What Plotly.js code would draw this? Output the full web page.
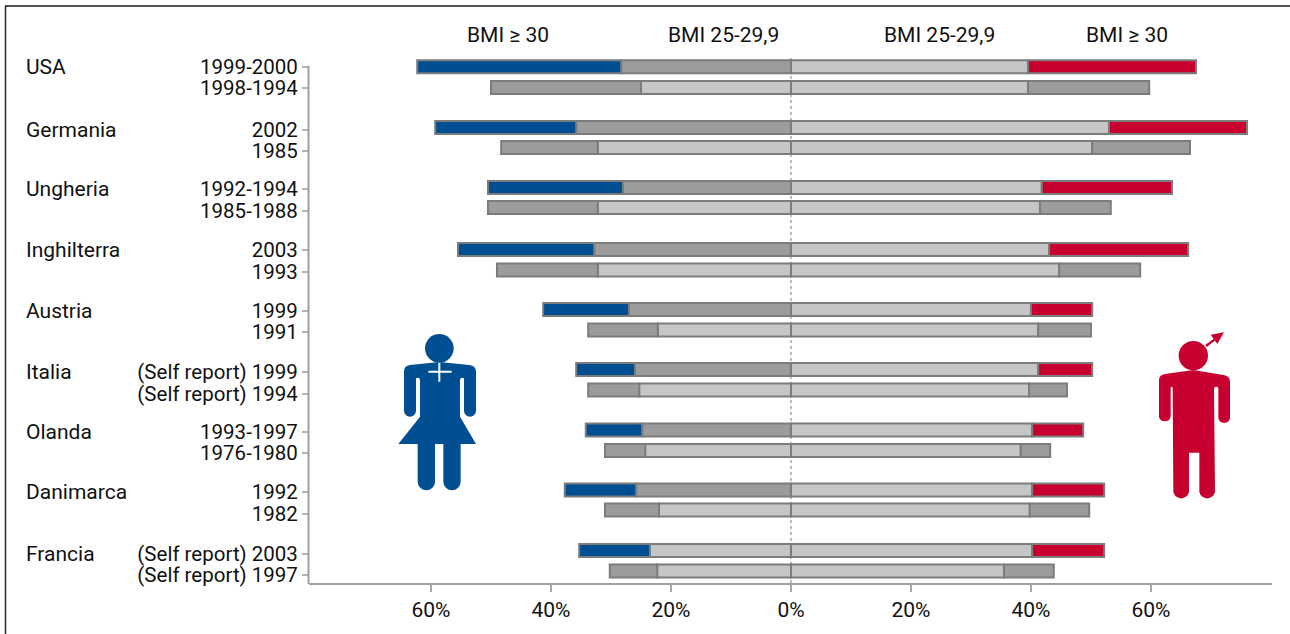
<!DOCTYPE html>
<html><head><meta charset="utf-8">
<script src="https://cdn.plot.ly/plotly-3.0.1.min.js"></script>
<style>html,body{margin:0;padding:0;background:#fff}#c{width:1290px;height:634px}</style>
</head><body><div id="c"></div>
<script>
const countries=["USA","Germania","Ungheria","Inghilterra","Austria","Italia","Olanda","Danimarca","Francia"];
const periods=["1999-2000","1998-1994","2002","1985","1992-1994","1985-1988","2003","1993","1999","1991",
"(Self report) 1999","(Self report) 1994","1993-1997","1976-1980","1992","1982","(Self report) 2003","(Self report) 1997"];
const labelRow=[67,88,130,151,189,211,250,272,311,332,372,394,432,453,492,514,554,575];
const barRow=[66.7,87.5,127.5,147.5,187.5,207.5,249.5,270,309.5,330,369.5,390,430,450.5,490,510,550.5,571];
const womenInner=[28.3,25,35.8,32.2,28,32.2,32.8,32.2,27,22.2,26,25.3,24.8,24.3,25.8,22,23.5,22.3];
const womenTotal=[62.3,50,59.3,48.3,50.5,50.5,55.5,49,41.3,33.8,35.8,33.8,34.2,31,37.7,31,35.3,30.2];
const menInner=[39.5,39.5,53,50.2,41.8,41.5,43,44.7,40,41.2,41.2,39.7,40.2,38.3,40.2,39.8,40.2,35.5];
const menTotal=[67.5,59.7,76,66.5,63.5,53.3,66.2,58.2,50.2,50,50.2,46,48.7,43.2,52.2,49.7,52.2,43.8];
const womenInnerColors=["d","l","d","l","d","l","d","l","d","l","d","l","d","l","d","l","l","l"];
const xTicks=[-60,-40,-20,0,20,40,60];
const xTickLabels=["60%","40%","20%","0%","20%","40%","60%"];
const headings=["BMI ≥ 30","BMI 25-29,9","BMI 25-29,9","BMI ≥ 30"];
const headingX=[-47.2,-11.2,24.8,56];

const W=1290,H=634,L=309,R=18,T=50,B=51;
const FONT='Roboto, sans-serif',FS=21,FSY=20.5;
const BLUE='#004f92',RED='#c8002f',DARK='#9c9c9c',LIGHT='#c6c6c6',EDGE='#7c7c7c';
const px=v=>(v-L)/(W-L-R), py=v=>1-(v-T)/(H-T-B);
const isFirst=i=>i%2===0;
const sub=(a,b)=>a.map((v,i)=>v-b[i]);
const mk=(x,base,colors)=>({type:'bar',orientation:'h',y:barRow,x:x,base:base,width:13,cliponaxis:false,
  hoverinfo:'skip',marker:{color:colors,line:{color:EDGE,width:2}},showlegend:false});
const traces=[
  mk(womenInner.map(v=>-v),0,womenInnerColors.map(c=>c==='d'?DARK:LIGHT)),
  mk(sub(womenTotal,womenInner).map(v=>-v),womenInner.map(v=>-v),barRow.map((_,i)=>isFirst(i)?BLUE:DARK)),
  mk(menInner,0,barRow.map(()=>LIGHT)),
  mk(sub(menTotal,menInner),menInner,barRow.map((_,i)=>isFirst(i)?RED:DARK))
];
const anns=[];
countries.forEach((c,i)=>anns.push({text:c,xref:'paper',yref:'y',x:px(24),y:labelRow[i*2],xanchor:'left',yanchor:'middle',
  showarrow:false,font:{family:FONT,size:FS,color:'#111'}}));
headings.forEach((h,i)=>anns.push({text:h,xref:'x',yref:'paper',x:headingX[i],y:py(35),xanchor:'center',yanchor:'middle',
  showarrow:false,font:{family:FONT,size:FS,color:'#111'}}));

const womanSvg=`<svg xmlns="http://www.w3.org/2000/svg" viewBox="0 0 360 540" width="360" height="540"><g fill="${BLUE}"><circle cx="178" cy="85" r="43"/><path d="M72 155 Q72 137 90 135 L178 126 L268 135 Q288 137 288 155 L288 272 A18 18 0 0 1 252 272 L252 177 Q252 173 247 173 Q240 173 240 180 L240 290 L288 372 L242 372 L242 485 A26 26 0 0 1 190 485 L190 372 L165 372 L165 485 A26 26 0 0 1 113 485 L113 372 L55 372 L120 290 L120 180 Q120 173 113 173 Q108 173 108 177 L108 272 A18 18 0 0 1 72 272 Z"/></g><path d="M145 155H215M178 128V185" stroke="#fff" stroke-width="6" fill="none"/></svg>`;
const manSvg=`<svg xmlns="http://www.w3.org/2000/svg" viewBox="0 0 330 570" width="330" height="570"><g fill="${RED}"><circle cx="160" cy="107" r="44"/><path d="M57 180 Q57 165 75 162 L160 150 L250 165 Q270 168 270 185 L270 295 A18 18 0 0 1 235 295 L235 205 Q235 200 229 200 Q222 200 222 207 L225 516 A24 24 0 0 1 178 516 L178 398 L147 398 L147 516 A24 24 0 0 1 100 516 L98 207 Q98 200 95 200 Q92 200 92 205 L92 290 A18 18 0 0 1 57 290 Z"/><path d="M212 44 L252 37 L232 72 Z"/></g><path d="M198 78 L235 50" stroke="${RED}" stroke-width="7" fill="none"/></svg>`;
const uri=s=>'data:image/svg+xml;base64,'+btoa(s);
const pw=W-L-R, ph=H-T-B;
const images=[
 {source:uri(womanSvg),xref:'paper',yref:'paper',x:px(380),y:py(320),sizex:120/pw,sizey:180/ph,xanchor:'left',yanchor:'top',sizing:'stretch',layer:'above'},
 {source:uri(manSvg),xref:'paper',yref:'paper',x:px(1140),y:py(320),sizex:110/pw,sizey:190/ph,xanchor:'left',yanchor:'top',sizing:'stretch',layer:'above'}
];
const shapes=[
 {type:'line',xref:'x',yref:'paper',x0:0,x1:0,y0:0,y1:py(56),layer:'below',line:{color:'#a8a8a8',width:1.5,dash:'dot'}},
 {type:'line',xref:'paper',yref:'paper',x0:px(308.5),x1:px(308.5),y0:py(66),y1:py(584),line:{color:'#a0a0a0',width:2}},
 {type:'line',xref:'paper',yref:'paper',x0:px(5.5),x1:px(5.5),y0:py(6),y1:py(634),line:{color:'#2a2a2a',width:1.5}},
 {type:'line',xref:'paper',yref:'paper',x0:px(5),x1:px(1290),y0:py(6),y1:py(6),line:{color:'#1a1a1a',width:1.5}}
];
const layout={width:W,height:H,margin:{l:L,r:R,t:T,b:B,pad:0},paper_bgcolor:'#fff',plot_bgcolor:'#fff',barmode:'overlay',showlegend:false,
 font:{family:FONT,size:FS,color:'#111'},
 xaxis:{range:[-80.33,80.17],tickvals:xTicks,ticktext:xTickLabels,showgrid:false,zeroline:false,showline:true,linecolor:'#a0a0a0',linewidth:2,
   ticks:'outside',ticklen:7,tickwidth:2,tickcolor:'#a8a8a8',tickfont:{family:FONT,size:FS,color:'#111'},fixedrange:true},
 yaxis:{range:[583,50],tickvals:labelRow,ticktext:periods,showgrid:false,zeroline:false,showline:false,
   ticks:'outside',ticklen:6,tickwidth:2,tickcolor:'#b4b4b4',tickfont:{family:FONT,size:FSY,color:'#111'},fixedrange:true},
 annotations:anns,shapes:shapes,images:images};
Plotly.newPlot('c',traces,layout,{displayModeBar:false,staticPlot:true});
</script></body></html>
